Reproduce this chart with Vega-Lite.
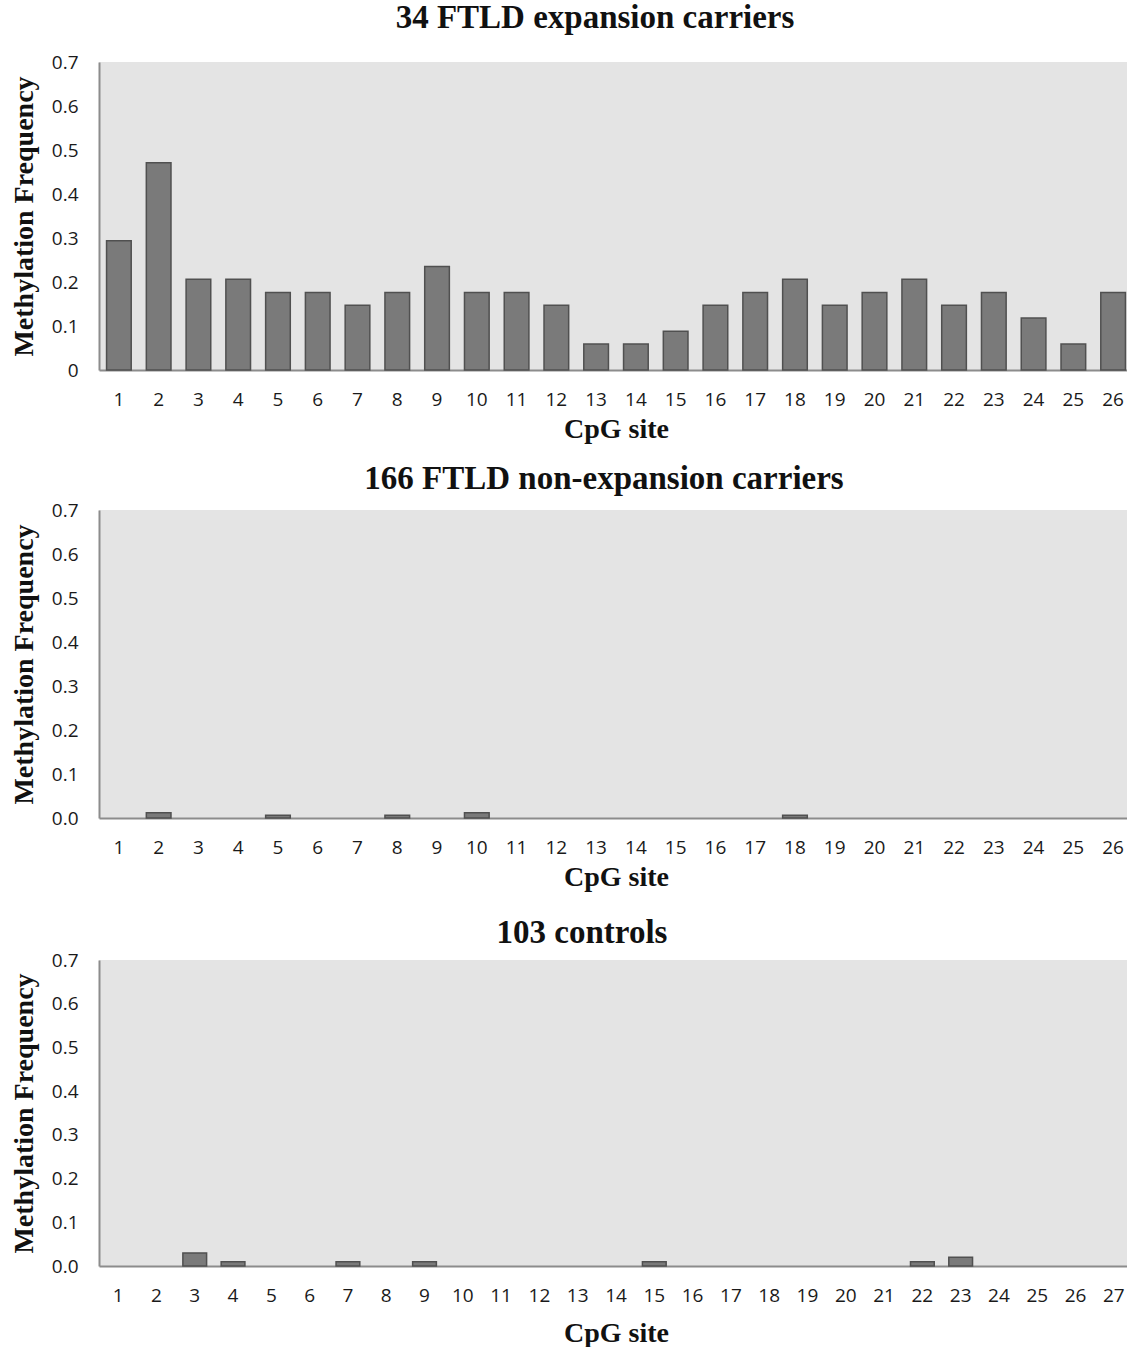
{
  "$schema": "https://vega.github.io/schema/vega-lite/v6.json",
  "background": "white",
  "padding": {"left": 10, "top": 2, "right": 0, "bottom": 0},
  "config": {
    "view": {"fill": "#e4e4e4", "stroke": null},
    "axis": {"domainColor": "#8c8c8c", "domainWidth": 2, "ticks": false, "tickSize": 0, "grid": false, "labelFont": "Open Sans", "labelFontSize": 19, "labelColor": "#1a1a1a", "titleFont": "Liberation Serif", "titleFontSize": 28, "titleFontWeight": "bold", "titleColor": "#111111"},
    "title": {"font": "Liberation Serif", "fontSize": 33, "fontWeight": "bold", "color": "#111111", "offset": 18}
  },
  "datasets": {
    "expansion": [
      {"site": 1, "frequency": 0.294}, {"site": 2, "frequency": 0.471}, {"site": 3, "frequency": 0.206}, {"site": 4, "frequency": 0.206},
      {"site": 5, "frequency": 0.176}, {"site": 6, "frequency": 0.176}, {"site": 7, "frequency": 0.147}, {"site": 8, "frequency": 0.176},
      {"site": 9, "frequency": 0.235}, {"site": 10, "frequency": 0.176}, {"site": 11, "frequency": 0.176}, {"site": 12, "frequency": 0.147},
      {"site": 13, "frequency": 0.059}, {"site": 14, "frequency": 0.059}, {"site": 15, "frequency": 0.088}, {"site": 16, "frequency": 0.147},
      {"site": 17, "frequency": 0.176}, {"site": 18, "frequency": 0.206}, {"site": 19, "frequency": 0.147}, {"site": 20, "frequency": 0.176},
      {"site": 21, "frequency": 0.206}, {"site": 22, "frequency": 0.147}, {"site": 23, "frequency": 0.176}, {"site": 24, "frequency": 0.118},
      {"site": 25, "frequency": 0.059}, {"site": 26, "frequency": 0.176}
    ],
    "nonexpansion": [
      {"site": 1, "frequency": 0}, {"site": 2, "frequency": 0.012}, {"site": 3, "frequency": 0}, {"site": 4, "frequency": 0},
      {"site": 5, "frequency": 0.006}, {"site": 6, "frequency": 0}, {"site": 7, "frequency": 0}, {"site": 8, "frequency": 0.006},
      {"site": 9, "frequency": 0}, {"site": 10, "frequency": 0.012}, {"site": 11, "frequency": 0}, {"site": 12, "frequency": 0},
      {"site": 13, "frequency": 0}, {"site": 14, "frequency": 0}, {"site": 15, "frequency": 0}, {"site": 16, "frequency": 0},
      {"site": 17, "frequency": 0}, {"site": 18, "frequency": 0.006}, {"site": 19, "frequency": 0}, {"site": 20, "frequency": 0},
      {"site": 21, "frequency": 0}, {"site": 22, "frequency": 0}, {"site": 23, "frequency": 0}, {"site": 24, "frequency": 0},
      {"site": 25, "frequency": 0}, {"site": 26, "frequency": 0}
    ],
    "controls": [
      {"site": 1, "frequency": 0}, {"site": 2, "frequency": 0}, {"site": 3, "frequency": 0.03}, {"site": 4, "frequency": 0.01},
      {"site": 5, "frequency": 0}, {"site": 6, "frequency": 0}, {"site": 7, "frequency": 0.01}, {"site": 8, "frequency": 0},
      {"site": 9, "frequency": 0.01}, {"site": 10, "frequency": 0}, {"site": 11, "frequency": 0}, {"site": 12, "frequency": 0},
      {"site": 13, "frequency": 0}, {"site": 14, "frequency": 0}, {"site": 15, "frequency": 0.01}, {"site": 16, "frequency": 0},
      {"site": 17, "frequency": 0}, {"site": 18, "frequency": 0}, {"site": 19, "frequency": 0}, {"site": 20, "frequency": 0},
      {"site": 21, "frequency": 0}, {"site": 22, "frequency": 0.01}, {"site": 23, "frequency": 0.02}, {"site": 24, "frequency": 0},
      {"site": 25, "frequency": 0}, {"site": 26, "frequency": 0}, {"site": 27, "frequency": 0}
    ]
  },
  "spacing": 20,
  "vconcat": [
    {
      "title": {"text": "34 FTLD expansion carriers", "dx": -21},
      "width": 1034, "height": 308,
      "data": {"name": "expansion"},
      "mark": {"type": "bar", "fill": "#7a7a7a", "stroke": "#505050", "strokeWidth": 1.5},
      "encoding": {
        "x": {"field": "site", "type": "ordinal", "scale": {"paddingInner": 0.38, "paddingOuter": 0.19}, "axis": {"title": "CpG site", "labelAngle": 0, "labelPadding": 20, "titlePadding": 6}},
        "y": {"field": "frequency", "type": "quantitative", "scale": {"domain": [0, 0.7], "nice": false}, "axis": {"title": "Methylation Frequency", "values": [0, 0.1, 0.2, 0.3, 0.4, 0.5, 0.6, 0.7], "format": ".1~f", "labelPadding": 21, "titlePadding": 13}},
        "strokeOpacity": {"condition": {"test": "datum.frequency > 0", "value": 1}, "value": 0}
      }
    },
    {
      "spacing": 26,
      "vconcat": [
        {
          "title": {"text": "166 FTLD non-expansion carriers", "dx": -12, "offset": 5},
          "width": 1034, "height": 308,
          "data": {"name": "nonexpansion"},
          "mark": {"type": "bar", "fill": "#7a7a7a", "stroke": "#505050", "strokeWidth": 1.5},
          "encoding": {
            "x": {"field": "site", "type": "ordinal", "scale": {"paddingInner": 0.38, "paddingOuter": 0.19}, "axis": {"title": "CpG site", "labelAngle": 0, "labelPadding": 20, "titlePadding": 6}},
            "y": {"field": "frequency", "type": "quantitative", "scale": {"domain": [0, 0.7], "nice": false}, "axis": {"title": "Methylation Frequency", "values": [0, 0.1, 0.2, 0.3, 0.4, 0.5, 0.6, 0.7], "format": ".1f", "labelPadding": 21, "titlePadding": 13}},
            "strokeOpacity": {"condition": {"test": "datum.frequency > 0", "value": 1}, "value": 0}
          }
        },
        {
          "title": {"text": "103 controls", "dx": -34, "offset": 1},
          "width": 1034, "height": 306,
          "data": {"name": "controls"},
          "mark": {"type": "bar", "fill": "#7a7a7a", "stroke": "#505050", "strokeWidth": 1.5},
          "encoding": {
            "x": {"field": "site", "type": "ordinal", "scale": {"paddingInner": 0.38, "paddingOuter": 0.19}, "axis": {"title": "CpG site", "labelAngle": 0, "labelPadding": 20, "titlePadding": 14}},
            "y": {"field": "frequency", "type": "quantitative", "scale": {"domain": [0, 0.7], "nice": false}, "axis": {"title": "Methylation Frequency", "values": [0, 0.1, 0.2, 0.3, 0.4, 0.5, 0.6, 0.7], "format": ".1f", "labelPadding": 21, "titlePadding": 13}},
            "strokeOpacity": {"condition": {"test": "datum.frequency > 0", "value": 1}, "value": 0}
          }
        }
      ]
    }
  ]
}
